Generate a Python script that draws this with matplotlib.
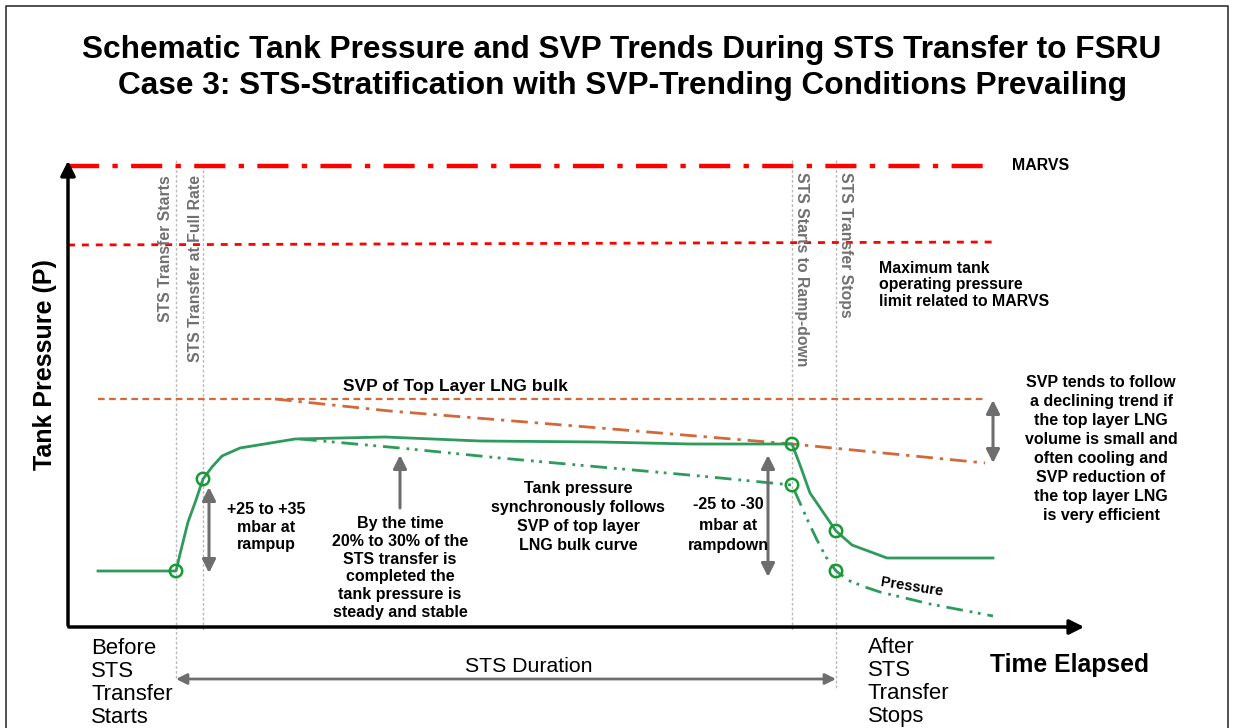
import matplotlib.pyplot as plt
from matplotlib.patches import Circle

plt.rcParams['font.family'] = ['Liberation Sans', 'DejaVu Sans']

# schematic coordinates (pixel units, y downwards)
marvs_x = [68, 993]
marvs_y = [166, 166]
maxop_x = [68, 993]
maxop_y = [245, 242]

svp_flat_x = [98, 985]
svp_flat_y = [399, 399]
svp_decl_x = [275, 390, 600, 792, 985]
svp_decl_y = [399, 411, 428, 444, 463]

press_x = [98, 176, 181, 188, 196, 203, 212, 222, 240, 295, 385, 480, 600, 690, 792, 800, 810, 836, 852, 887, 993]
press_y = [571, 571, 550, 522, 500, 479, 467, 456, 448, 439, 437, 441, 442, 444, 444, 465, 493, 531, 545, 558, 558]

strat_x = [300, 400, 500, 600, 700, 792, 800, 808, 817, 826, 836, 850, 865, 880, 930, 993]
strat_y = [439, 448, 458, 467, 476, 485, 503, 521, 540, 557, 571, 581, 587, 592, 604, 616]

circle_x = [176, 203, 792, 792, 836, 836]
circle_y = [571, 479, 444, 485, 531, 571]

event_x = [176, 203, 792, 836]
event_top = [160, 165, 160, 160]
event_bottom = [680, 630, 630, 688]
event_labels = ["STS Transfer Starts", "STS Transfer at Full Rate",
                "STS Starts to Ramp-down", "STS Transfer Stops"]

fig = plt.figure(figsize=(12.33, 7.28), dpi=100)
ax = fig.add_axes([0, 0, 1, 1])
ax.set_xlim(0, 1233)
ax.set_ylim(728, 0)
ax.axis('off')

# frame
ax.plot([6, 6, 1228, 1228], [728, 6, 6, 728], color='#333333', lw=1.2)

# title
ax.text(622, 50, "Schematic Tank Pressure and SVP Trends During STS Transfer to FSRU",
        ha='center', va='center', fontsize=22.8, fontweight='bold')
ax.text(622, 86, "Case 3: STS-Stratification with SVP-Trending Conditions Prevailing",
        ha='center', va='center', fontsize=22.8, fontweight='bold')

# event lines
for x, t, b in zip(event_x, event_top, event_bottom):
    ax.plot([x, x], [t, b], color='#bbbbbb', lw=1, ls=(0, (2, 1.5)), zorder=1)
vlab = dict(fontsize=11.3, color='#707070', fontweight='bold', ha='center', va='top')
ax.text(165, 175, event_labels[0], rotation=90, **vlab)
ax.text(195, 175, event_labels[1], rotation=90, **vlab)
ax.text(802, 172, event_labels[2], rotation=-90, **vlab)
ax.text(845, 172, event_labels[3], rotation=-90, **vlab)

# limit lines
ax.plot(marvs_x, marvs_y, color='#ff0000', lw=3.2, ls=(0, (7, 3, 1.2, 3)))
ax.plot(maxop_x, maxop_y, color='#ff0000', lw=2, ls=(0, (2.5, 2.5)))
ax.text(1012, 166, "MARVS", ha='left', va='center', fontsize=11.4, fontweight='bold')
ax.text(879, 285, "Maximum tank\noperating pressure\nlimit related to MARVS",
        ha='left', va='center', fontsize=11.4, fontweight='bold', linespacing=1.1)

# SVP lines
ax.plot(svp_flat_x, svp_flat_y, color='#d2693a', lw=1.6, ls=(0, (3, 2)))
ax.plot(svp_decl_x, svp_decl_y, color='#d2693a', lw=2, ls=(0, (6, 2.5, 1.2, 2.5)))
ax.text(455, 386, "SVP of Top Layer LNG bulk", ha='center', va='center', fontsize=12.5, fontweight='bold')

# pressure lines
ax.plot(press_x, press_y, color='#2e9a5c', lw=2, solid_joinstyle='round')
ax.plot(strat_x, strat_y, color='#2e9a5c', lw=2, ls=(0, (6, 2.5, 1, 2, 1, 2.5)))
for cx, cy in zip(circle_x, circle_y):
    ax.add_patch(Circle((cx, cy), 6.2, fill=False, ec='#159a35', lw=1.8, zorder=5))
ax.text(912, 587, "Pressure", rotation=-9, ha='center', va='center', fontsize=10.5, fontweight='bold')

# axes arrows
ax.annotate('', xy=(68, 158), xytext=(68, 628),
            arrowprops=dict(arrowstyle='-|>', color='black', lw=2.5, mutation_scale=22))
ax.annotate('', xy=(1087, 627), xytext=(66, 627),
            arrowprops=dict(arrowstyle='-|>', color='black', lw=2.5, mutation_scale=22))
ax.text(45, 365, "Tank Pressure (P)", rotation=90, ha='center', va='center', fontsize=18, fontweight='bold')
ax.text(1069, 665, "Time Elapsed", ha='center', va='center', fontsize=17.8, fontweight='bold')

# gray annotation arrows
gray = '#6e6e6e'
def dbl(x, y0, y1):
    ax.annotate('', xy=(x, y0), xytext=(x, y1),
                arrowprops=dict(arrowstyle='<|-|>', color=gray, lw=2.2, mutation_scale=20, shrinkA=0, shrinkB=0))
dbl(209, 487, 573)
dbl(768, 455, 577)
dbl(993, 400, 463)
ax.annotate('', xy=(400, 455), xytext=(400, 508),
            arrowprops=dict(arrowstyle='-|>', color=gray, lw=2.2, mutation_scale=20, shrinkA=0, shrinkB=0))
ax.annotate('', xy=(176, 679), xytext=(836, 679),
            arrowprops=dict(arrowstyle='<|-|>', color=gray, lw=2, mutation_scale=16, shrinkA=0, shrinkB=0))

# annotation texts
bold = dict(fontsize=11.5, fontweight='bold', ha='center', va='center')
ax.text(266, 527, "+25 to +35\nmbar at\nrampup", linespacing=1.25, **bold)
ax.text(400, 568, "By the time\n20% to 30% of the\nSTS transfer is\ncompleted the\ntank pressure is\nsteady and stable",
        linespacing=1.23, **bold)
ax.text(578, 517, "Tank pressure\nsynchronously follows\nSVP of top layer\nLNG bulk curve", linespacing=1.33, **bold)
ax.text(728, 525, "-25 to -30\nmbar at\nrampdown", linespacing=1.45, **bold)
ax.text(1101, 449, "SVP tends to follow\na declining trend if\nthe top layer LNG\nvolume is small and\noften cooling and\nSVP reduction of\nthe top layer LNG\nis very efficient",
        linespacing=1.33, **bold)

# bottom texts
ax.text(91, 683, "Before\nSTS\nTransfer\nStarts", ha='left', va='center', fontsize=15.9, linespacing=1.13)
ax.text(868, 682, "After\nSTS\nTransfer\nStops", ha='left', va='center', fontsize=15.9, linespacing=1.13)
ax.text(529, 666, "STS Duration", ha='center', va='center', fontsize=15.3)

fig.savefig("out.png", dpi=100)
